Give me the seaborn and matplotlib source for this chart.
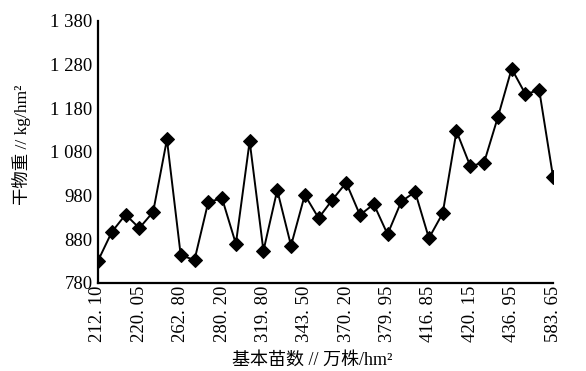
import numpy as np
import pandas as pd
import matplotlib
matplotlib.use("Agg")
import matplotlib.pyplot as plt
import seaborn as sns

# Dry matter yield for each sample, ordered by basic seedling number
dry_matter = [830, 896, 936, 905, 942, 1108, 843, 832, 965, 973,
              869, 1104, 853, 992, 865, 981, 928, 970, 1009, 935,
              960, 891, 966, 988, 882, 939, 1127, 1047, 1055, 1159,
              1270, 1212, 1221, 1023]

# Basic seedling numbers shown on the category axis (every third sample)
seedling_labels = ["212. 10", "220. 05", "262. 80", "280. 20", "319. 80",
                   "343. 50", "370. 20", "379. 95", "416. 85", "420. 15",
                   "436. 95", "583. 65"]

y_ticks = [780, 880, 980, 1080, 1180, 1280, 1380]
y_tick_labels = ["780", "880", "980", "1 080", "1 180", "1 280", "1 380"]

sns.set_theme(style="white")
plt.rcParams["font.family"] = ["Liberation Serif", "Noto Sans CJK SC", "DejaVu Sans"]

df = pd.DataFrame({"sample": np.arange(len(dry_matter)), "dry_matter": dry_matter})

fig = plt.figure(figsize=(5.86, 3.71), dpi=100)
ax = fig.add_axes([0.1672, 0.238, 0.7765, 0.7062])

sns.lineplot(data=df, x="sample", y="dry_matter", ax=ax, color="black",
             linewidth=1.4, marker="D", markersize=7,
             markeredgecolor="black", markerfacecolor="black")

ax.set_xlim(0, len(dry_matter) - 1)
ax.set_ylim(780, 1380)
ax.set_xticks(np.arange(0, len(dry_matter), 3))
ax.set_xticklabels(seedling_labels, rotation=90, fontsize=13.5)
ax.set_yticks(y_ticks)
ax.set_yticklabels(y_tick_labels, fontsize=13.5)

ax.tick_params(axis="both", direction="in", length=3, width=1.2,
               color="black", labelcolor="black")
ax.tick_params(axis="x", pad=2)
ax.tick_params(axis="y", pad=4)

for side in ["top", "right"]:
    ax.spines[side].set_visible(False)
for side in ["left", "bottom"]:
    ax.spines[side].set_color("black")
    ax.spines[side].set_linewidth(1.6)

ax.set_xlabel("基本苗数 // 万株/hm²", fontsize=13, color="black", labelpad=7)
ax.set_ylabel("干物重 // kg/hm²", fontsize=12.5, color="black", labelpad=14)
ax.xaxis.label.set_x(0.47)
ax.yaxis.label.set_y(0.526)

fig.savefig("out.png", dpi=100)
